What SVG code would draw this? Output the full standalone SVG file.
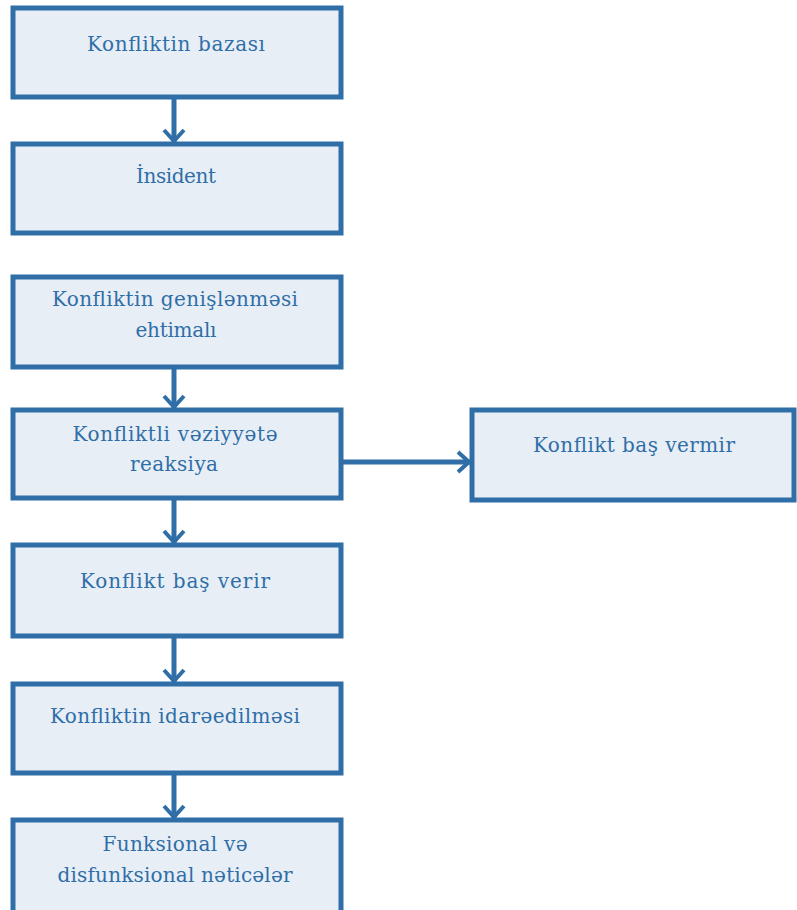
<svg xmlns="http://www.w3.org/2000/svg" width="797" height="910" viewBox="0 0 797 910">
<style>
.box{fill:#e8eef6;stroke:#2f6ea7;stroke-width:5}
.t{font-family:"DejaVu Serif","Liberation Serif",serif;font-size:20px;fill:#2f6ea7;text-anchor:middle}
.c{fill:none;stroke:#2f6ea7;stroke-width:5}
</style>
<defs>
<marker id="ah" viewBox="0 0 16 24" refX="14" refY="12" markerWidth="16" markerHeight="24" markerUnits="userSpaceOnUse" orient="auto">
<path d="M2,2 L13,12 L2,22" fill="none" stroke="#2f6ea7" stroke-width="4"/>
</marker>
</defs>
<rect width="797" height="910" fill="#ffffff"/>
<g id="connectors">
<path class="c" d="M174,97 V142" marker-end="url(#ah)"/>
<path class="c" d="M174,367 V408" marker-end="url(#ah)"/>
<path class="c" d="M174,498 V543" marker-end="url(#ah)"/>
<path class="c" d="M174,636 V682" marker-end="url(#ah)"/>
<path class="c" d="M174,773 V818" marker-end="url(#ah)"/>
<path class="c" d="M340,462 H470" marker-end="url(#ah)"/>
</g>
<g id="n1"><rect class="box" x="13" y="8" width="328" height="89"/><text class="t" x="176" y="51" textLength="178" lengthAdjust="spacing">Konfliktin  bazası</text></g>
<g id="n2"><rect class="box" x="13" y="144" width="328" height="89"/><text class="t" x="176" y="183" textLength="80" lengthAdjust="spacing">İnsident</text></g>
<g id="n3"><rect class="box" x="13" y="277" width="328" height="90"/><text class="t" x="175" y="306" textLength="246" lengthAdjust="spacing">Konfliktin  genişlənməsi</text><text class="t" x="176" y="337" textLength="81" lengthAdjust="spacing">ehtimalı</text></g>
<g id="n4"><rect class="box" x="13" y="410" width="328" height="88"/><text class="t" x="175" y="441" textLength="205" lengthAdjust="spacing">Konfliktli  vəziyyətə</text><text class="t" x="174" y="471" textLength="88" lengthAdjust="spacing">reaksiya</text></g>
<g id="n5"><rect class="box" x="472" y="410" width="322" height="90"/><text class="t" x="634" y="452" textLength="202" lengthAdjust="spacing">Konflikt baş vermir</text></g>
<g id="n6"><rect class="box" x="13" y="545" width="328" height="91"/><text class="t" x="175" y="588" textLength="190" lengthAdjust="spacing">Konflikt   baş verir</text></g>
<g id="n7"><rect class="box" x="13" y="684" width="328" height="89"/><text class="t" x="175" y="723" textLength="250" lengthAdjust="spacing">Konfliktin  idarəedilməsi</text></g>
<g id="n8"><rect class="box" x="13" y="820" width="328" height="110"/><text class="t" x="175" y="851" textLength="145" lengthAdjust="spacing">Funksional  və</text><text class="t" x="175" y="882" textLength="235" lengthAdjust="spacing">disfunksional  nəticələr</text></g>
</svg>
